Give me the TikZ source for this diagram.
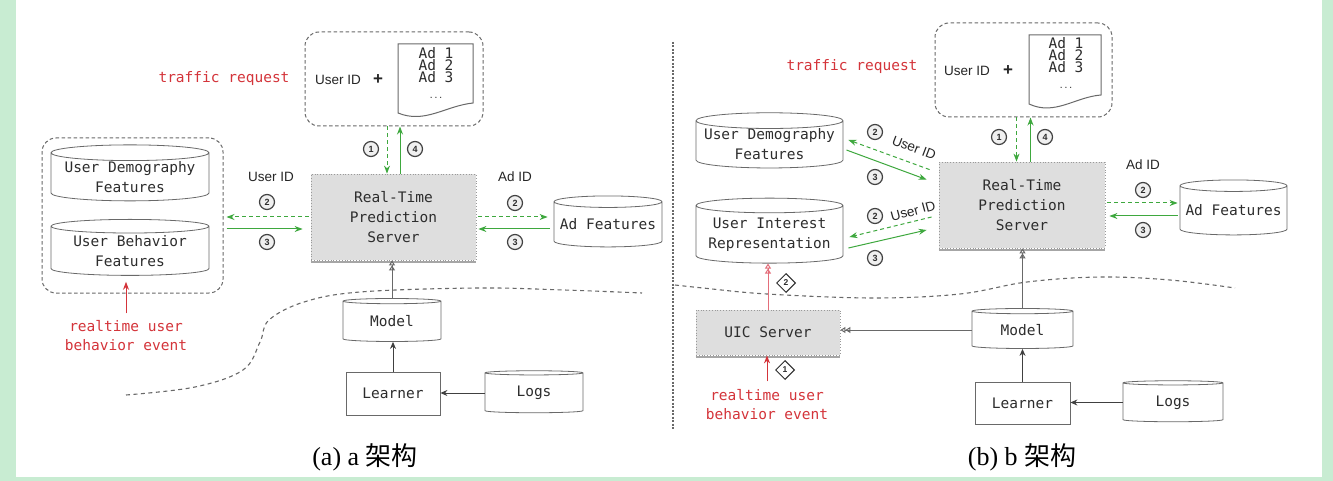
\documentclass[tikz,border=0pt]{standalone}
\usepackage{fontspec}
\setmainfont{Liberation Serif}
\newfontfamily\monof{DejaVu Sans Mono}
\newfontfamily\sansf{Liberation Sans}
\newfontfamily\cjkf{Noto Sans CJK SC}
\usetikzlibrary{shapes.geometric,arrows.meta,calc}

\definecolor{framegreen}{RGB}{200,236,210}
\definecolor{flowgreen}{RGB}{62,168,62}
\definecolor{alertred}{RGB}{212,52,58}
\definecolor{pinkred}{RGB}{228,110,122}
\definecolor{inkgray}{RGB}{45,45,45}
\definecolor{linegray}{RGB}{105,105,105}
\definecolor{servergray}{RGB}{222,222,222}

\begin{document}
\begin{tikzpicture}[x=1pt,y=-1pt,
  boxfont/.style={font=\monof\fontsize{14.5}{20}\selectfont, text=inkgray, align=center},
  store/.style 2 args={cylinder, shape border rotate=90, aspect=0.12, draw=linegray,
    line width=0.8pt, fill=white, minimum width=#1, minimum height=#2, inner sep=0pt, boxfont},
  plainbox/.style 2 args={rectangle, draw=linegray, line width=0.8pt, fill=white,
    minimum width=#1, minimum height=#2, inner sep=0pt, boxfont},
  serverbox/.style 2 args={rectangle, draw=gray!80, dotted, fill=servergray, line width=0.8pt,
    minimum width=#1, minimum height=#2, inner sep=0pt, boxfont},
  shadowline/.style={gray!70, line width=2.5pt},
  groupbox/.style 2 args={rectangle, rounded corners=14pt, draw=linegray, dash pattern=on 3.5pt off 2.5pt,
    line width=1pt, minimum width=#1, minimum height=#2, inner sep=0pt},
  docline/.style={draw=linegray, line width=1pt, fill=white},
  adlist/.style={font=\monof\fontsize{14.5}{12}\selectfont, text=inkgray, align=center, inner sep=0pt},
  num/.style={circle, draw=inkgray!90, line width=1.2pt, fill=gray!12, inner sep=0pt, minimum size=15pt,
    font=\sansf\bfseries\fontsize{9}{9}\selectfont, text=inkgray},
  dnum/.style={diamond, draw=inkgray, line width=1pt, fill=white, inner sep=0pt, minimum size=19pt,
    font=\sansf\bfseries\fontsize{8.5}{8.5}\selectfont, text=inkgray},
  tag/.style={font=\sansf\fontsize{13.5}{14}\selectfont, text=black!85, inner sep=1pt},
  plus/.style={font=\sansf\bfseries\fontsize{17}{17}\selectfont, text=black!85, inner sep=1pt},
  redtext/.style={font=\monof\fontsize{14.5}{19}\selectfont, text=alertred, align=center},
  req/.style={flowgreen, line width=1pt, -{Stealth[length=8pt,width=6pt]}},
  reqdash/.style={req, dash pattern=on 4pt off 3pt},
  feed/.style={black!75, line width=1pt, -{Stealth[length=7pt,width=6pt]}},
  deploy/.style={linegray, line width=1pt,
    -{Triangle[open,length=5pt,width=6pt]Triangle[open,length=5pt,width=6pt]}},
  redarrow/.style={alertred, line width=1pt, -{Stealth[length=8pt,width=6pt]}},
  pinkdeploy/.style={pinkred, line width=1pt,
    -{Triangle[open,length=5pt,width=6pt]Triangle[open,length=5pt,width=6pt]}},
  zone/.style={linegray, line width=1.1pt, dash pattern=on 4pt off 3.5pt},
  divider/.style={linegray, line width=1.2pt, dash pattern=on 2pt off 1.5pt},
  caption/.style={font=\fontsize{26}{30}\selectfont, text=black}
]
\useasboundingbox (0,0) rectangle (1333,481);
\fill[framegreen] (0,0) rectangle (1333,481);
\fill[white] (16,0) rectangle (1322,477);

% ---------------- panel (a) ----------------
\node[redtext] (trA) at (224,79) {traffic request};
\node[groupbox={178}{94}] (reqA) at (394,79) {};
\node[tag] (uidA) at (338,80) {User ID};
\node[plus] (plusA) at (378,80) {+};
\draw[docline] (398,44) -- (473,44) -- (473,103) .. controls (445,106) and (425,124) .. (398,113) -- cycle;
\node[adlist] (adsA) at (436,73) {Ad 1\\Ad 2\\Ad 3\\[4pt]{\fontsize{8}{8}\selectfont ...}};

\node[serverbox={165}{86}] (srvA) at (393.5,217) {Real-Time\\Prediction\\Server};
\draw[shadowline] ([yshift=-1.5pt]srvA.south west) -- ([yshift=-1.5pt]srvA.south east);

\draw[reqdash] ([xshift=-7pt]reqA.south) -- ([xshift=-7pt]reqA.south |- srvA.north);
\draw[req] ([xshift=6pt]reqA.south |- srvA.north) -- ([xshift=6pt]reqA.south);
\node[num] (n1A) at (371,149) {1};
\node[num] (n4A) at (415,149) {4};

\node[store={108}{51}] (adfA) at (608,224.5) {Ad Features};
\node[tag] (adidA) at (515,177) {Ad ID};
\node[num] (n2rA) at (515,203) {2};
\node[num] (n3rA) at (515,242) {3};
\draw[reqdash, shorten <=2pt, shorten >=6pt] (srvA.east) -- (srvA.east -| adfA.west);
\draw[req, shorten <=4pt, shorten >=2pt] ([yshift=-12pt]srvA.east -| adfA.west) -- ([yshift=-12pt]srvA.east);

\node[groupbox={181}{155}] (grpA) at (132.5,215.5) {};
\node[store={158}{56}] (udfA) at (130,177) {User Demography\\Features};
\node[store={158}{56}] (ubfA) at (130,251) {User Behavior\\Features};
\node[tag] (uidlA) at (271,177) {User ID};
\node[num] (n2lA) at (267,202) {2};
\node[num] (n3lA) at (267,242) {3};
\draw[reqdash, shorten <=2pt, shorten >=3pt] (srvA.west) -- (srvA.west -| grpA.east);
\draw[req, shorten <=3pt, shorten >=8pt] ([yshift=-12pt]srvA.west -| grpA.east) -- ([yshift=-12pt]srvA.west);

\node[redtext] (rtA) at (126,336) {realtime user\\behavior event};
\draw[redarrow, shorten >=6pt] ([yshift=4pt]rtA.north) -- (rtA.north |- ubfA.south);

\draw[zone] plot[smooth, tension=0.6] coordinates {(126,395) (195,387) (243,370) (260,342) (269,320) (304,302) (360,292) (477,288) (564,290) (642,293)};

\node[store={98}{43}] (modelA) at (392,321.5) {Model};
\node[plainbox={94}{43}] (learnA) at (393,393.5) {Learner};
\node[store={98}{42}] (logsA) at (534,393) {Logs};
\draw[deploy] (modelA.north) -- (modelA.north |- srvA.south);
\draw[feed] (learnA.north) -- (learnA.north |- modelA.south);
\draw[feed] (logsA.west) -- (logsA.west -| learnA.east);

\node[caption] (capA) at (365,457) {(a) a {\cjkf 架构}};

% divider between the two panels
\coordinate (divTop) at (673,42);
\coordinate (divBot) at (673,430);
\draw[divider] (divTop) -- (divBot);

% ---------------- panel (b) ----------------
\node[redtext] (trB) at (852,67) {traffic request};
\node[groupbox={177}{94}] (reqB) at (1023.5,70) {};
\node[tag] (uidB) at (967,71) {User ID};
\node[plus] (plusB) at (1008,71) {+};
\draw[docline] (1029,35) -- (1101,35) -- (1101,95) .. controls (1075,97) and (1055,116) .. (1029,104) -- cycle;
\node[adlist] (adsB) at (1066,63) {Ad 1\\Ad 2\\Ad 3\\[4pt]{\fontsize{8}{8}\selectfont ...}};

\node[serverbox={166}{86}] (srvB) at (1022,205) {Real-Time\\Prediction\\Server};
\draw[shadowline] ([yshift=-1.5pt]srvB.south west) -- ([yshift=-1.5pt]srvB.south east);

\draw[reqdash] ([xshift=-7pt]reqB.south) -- ([xshift=-7pt]reqB.south |- srvB.north);
\draw[req] ([xshift=7pt]reqB.south |- srvB.north) -- ([xshift=7pt]reqB.south);
\node[num] (n1B) at (999,137) {1};
\node[num] (n4B) at (1045,137) {4};

\node[store={107}{55}] (adfB) at (1233.5,210.5) {Ad Features};
\node[tag] (adidB) at (1143,165) {Ad ID};
\node[num] (n2rB) at (1143,190) {2};
\node[num] (n3rB) at (1143,230) {3};
\draw[reqdash, shorten <=2pt, shorten >=2pt] ([yshift=2pt]srvB.east) -- ([yshift=2pt]srvB.east -| adfB.west);
\draw[req, shorten <=2pt, shorten >=4pt] ([yshift=-11pt]srvB.east -| adfB.west) -- ([yshift=-11pt]srvB.east);

\node[store={147}{55}] (udfB) at (769.5,144.5) {User Demography\\Features};
\node[store={147}{65}] (uirB) at (769.5,234.5) {User Interest\\Representation};

\draw[reqdash] ([shift={(-9,8)}]srvB.north west) -- ([shift={(5,-4.5)}]udfB.east);
\draw[req] ([shift={(3,5.5)}]udfB.east) -- ([shift={(-12,18)}]srvB.north west);
\node[num] (n2uB) at (875,132) {2};
\node[num] (n3uB) at (875,177) {3};
\node[tag, rotate=-21] (uiduB) at (914,148) {User ID};

\draw[reqdash] ([shift={(-7,12)}]srvB.west) -- ([shift={(6,2.5)}]uirB.east);
\draw[req] ([shift={(5,13.5)}]uirB.east) -- ([shift={(-12,25)}]srvB.west);
\node[num] (n2iB) at (875,216) {2};
\node[num] (n3iB) at (875,258) {3};
\node[tag, rotate=15] (uidiB) at (913,211) {User ID};

\draw[zone] plot[smooth, tension=0.6] coordinates {(675,285) (703,288) (767,294) (874,298) (960,294) (1027,282) (1100,277) (1170,280) (1235,288)};

\node[serverbox={144}{45}] (uicB) at (768,332.5) {UIC Server};
\draw[shadowline] ([yshift=-1.5pt]uicB.south west) -- ([yshift=-1.5pt]uicB.south east);
\draw[pinkdeploy] (uicB.north) -- (uicB.north |- uirB.south);
\node[dnum] (d2B) at (786,283) {2};

\node[redtext] (rtB) at (767,405) {realtime user\\behavior event};
\draw[redarrow] ([yshift=5pt]rtB.north) -- (rtB.north |- uicB.south);
\node[dnum] (d1B) at (785,370) {1};

\node[store={101}{40}] (modelB) at (1022.5,330) {Model};
\node[plainbox={95}{42}] (learnB) at (1022.5,403) {Learner};
\node[store={100}{41}] (logsB) at (1173,402.5) {Logs};
\draw[deploy] (modelB.north) -- (modelB.north |- srvB.south);
\draw[deploy] (modelB.west) -- (modelB.west -| uicB.east);
\draw[feed] (learnB.north) -- (learnB.north |- modelB.south);
\draw[feed] (logsB.west) -- (logsB.west -| learnB.east);

\node[caption] (capB) at (1022,457) {(b) b {\cjkf 架构}};
\end{tikzpicture}
\end{document}
